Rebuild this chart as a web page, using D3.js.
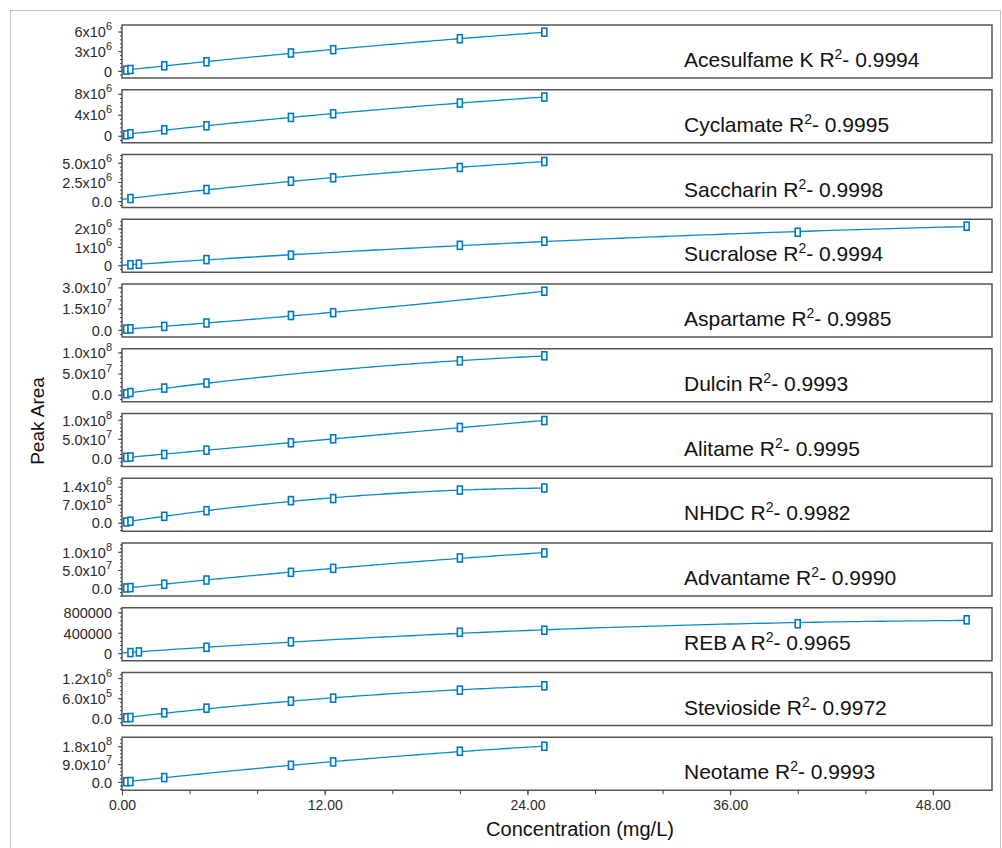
<!DOCTYPE html>
<html>
<head>
<meta charset="utf-8">
<script src="https://cdn.jsdelivr.net/npm/d3@7"></script>
<style>
  body { margin: 0; background: #fff; }
  svg text { font-family: "Liberation Sans", Arial, sans-serif; }
</style>
</head>
<body>
<div id="chart"></div>
<script>
// compound names and R2 values shown in each panel
const compounds = ["Acesulfame K", "Cyclamate", "Saccharin", "Sucralose", "Aspartame", "Dulcin",
    "Alitame", "NHDC", "Advantame", "REB A", "Stevioside", "Neotame"];
const r2Values = ["0.9994", "0.9995", "0.9998", "0.9994", "0.9985", "0.9993",
    "0.9995", "0.9982", "0.9990", "0.9965", "0.9972", "0.9993"];

// concentration levels (mg/L)
const concStd = [0.25, 0.5, 2.5, 5, 10, 12.5, 20, 25];
const concSaccharin = [0.5, 5, 10, 12.5, 20, 25];
const concWide = [0.5, 1, 5, 10, 20, 25, 40, 50];
const concAspartame = [0.25, 0.5, 2.5, 5, 10, 12.5, 25];
const concDulcin = [0.25, 0.5, 2.5, 5, 20, 25];
const concNeotame = [0.25, 0.5, 2.5, 10, 12.5, 20, 25];

// peak areas
const areaAcesulfame = [0.1e6, 0.2e6, 0.77e6, 1.38e6, 2.72e6, 3.23e6, 4.9e6, 5.9e6];
const areaCyclamate = [0.19e6, 0.38e6, 1.14e6, 1.9e6, 3.49e6, 4.19e6, 6.23e6, 7.37e6];
const areaSaccharin = [0.35e6, 1.52e6, 2.6e6, 3.05e6, 4.39e6, 5.17e6];
const areaSucralose = [0.03e6, 0.06e6, 0.31e6, 0.55e6, 1.09e6, 1.31e6, 1.8e6, 2.13e6];
const areaAspartame = [0.05e7, 0.07e7, 0.24e7, 0.48e7, 1.01e7, 1.21e7, 2.73e7];
const areaDulcin = [0.24e7, 0.54e7, 1.58e7, 2.76e7, 8.0e7, 9.2e7];
const areaAlitame = [0.1e7, 0.2e7, 0.87e7, 2.0e7, 3.95e7, 5.0e7, 7.97e7, 9.8e7];
const areaNHDC = [0.03e6, 0.06e6, 0.25e6, 0.47e6, 0.86e6, 0.94e6, 1.27e6, 1.35e6];
const areaAdvantame = [0.1e7, 0.2e7, 1.1e7, 2.27e7, 4.37e7, 5.46e7, 8.3e7, 9.7e7];
const areaREBA = [12000, 25000, 115000, 223000, 410000, 450000, 577000, 654000];
const areaStevioside = [0.01e6, 0.02e6, 0.16e6, 0.3e6, 0.51e6, 0.6e6, 0.84e6, 0.97e6];
const areaNeotame = [0.1e7, 0.2e7, 2.2e7, 8.4e7, 1.01e8, 1.55e8, 1.8e8];

// y axis range and ticks for each panel
const yDomains = [[-1.1e6, 7.0e6], [-1.33e6, 8.76e6], [-0.82e6, 6.08e6], [-0.38e6, 2.51e6],
    [-0.51e7, 3.24e7], [-1.65e7, 1.087e8], [-2.3e7, 1.166e8], [-3.3e5, 1.73e6],
    [-2.1e7, 1.24e8], [-148000, 890000], [-2.2e5, 1.37e6], [-4.2e7, 2.255e8]];
const yTicks = [[0, 3e6, 6e6], [0, 4e6, 8e6], [0, 2.5e6, 5e6], [0, 1e6, 2e6],
    [0, 1.5e7, 3e7], [0, 5e7, 1e8], [0, 5e7, 1e8], [0, 7e5, 1.4e6],
    [0, 5e7, 1e8], [0, 400000, 800000], [0, 6e5, 1.2e6], [0, 9e7, 1.8e8]];
// tick labels as [mantissa, exponent]
const yTickLabels = [
    [["0", ""], ["3x10", "6"], ["6x10", "6"]],
    [["0", ""], ["4x10", "6"], ["8x10", "6"]],
    [["0.0", ""], ["2.5x10", "6"], ["5.0x10", "6"]],
    [["0", ""], ["1x10", "6"], ["2x10", "6"]],
    [["0.0", ""], ["1.5x10", "7"], ["3.0x10", "7"]],
    [["0.0", ""], ["5.0x10", "7"], ["1.0x10", "8"]],
    [["0.0", ""], ["5.0x10", "7"], ["1.0x10", "8"]],
    [["0.0", ""], ["7.0x10", "5"], ["1.4x10", "6"]],
    [["0.0", ""], ["5.0x10", "7"], ["1.0x10", "8"]],
    [["0", ""], ["400000", ""], ["800000", ""]],
    [["0.0", ""], ["6.0x10", "5"], ["1.2x10", "6"]],
    [["0.0", ""], ["9.0x10", "7"], ["1.8x10", "8"]]
];
const xTicks = [0, 12, 24, 36, 48];

const concs = [concStd, concStd, concSaccharin, concWide, concAspartame, concDulcin,
    concStd, concStd, concStd, concWide, concStd, concNeotame];
const areas = [areaAcesulfame, areaCyclamate, areaSaccharin, areaSucralose, areaAspartame, areaDulcin,
    areaAlitame, areaNHDC, areaAdvantame, areaREBA, areaStevioside, areaNeotame];

const lineColor = "#0a88cc";
const markColor = "#0079c2";
const textColor = "#2a2a2a";

// least squares quadratic through the calibration points
function quadFit(xs, ys) {
    const s = [0, 0, 0, 0, 0], t = [0, 0, 0];
    xs.forEach((x, i) => {
        for (let k = 0; k < 5; k++) s[k] += Math.pow(x, k);
        for (let k = 0; k < 3; k++) t[k] += ys[i] * Math.pow(x, k);
    });
    const m = [[s[0], s[1], s[2], t[0]], [s[1], s[2], s[3], t[1]], [s[2], s[3], s[4], t[2]]];
    for (let i = 0; i < 3; i++) {
        for (let j = i + 1; j < 3; j++) {
            const f = m[j][i] / m[i][i];
            for (let k = i; k < 4; k++) m[j][k] -= f * m[i][k];
        }
    }
    const c = [0, 0, 0];
    for (let i = 2; i >= 0; i--) {
        let v = m[i][3];
        for (let k = i + 1; k < 3; k++) v -= m[i][k] * c[k];
        c[i] = v / m[i][i];
    }
    return x => c[0] + c[1] * x + c[2] * x * x;
}

const W = 1002, H = 848;
const svg = d3.select("#chart").append("svg")
    .attr("width", W).attr("height", H);

// light outer frame
svg.append("rect")
    .attr("x", 10.5).attr("y", 10.5)
    .attr("width", 990).attr("height", 900)
    .attr("fill", "none").attr("stroke", "#c4c4c4");

const left = 122, right = 992;
const panelTop = 25, panelStep = 64.75, panelH = 53;

const x = d3.scaleLinear().domain([0, 51.5]).range([left, right]);

compounds.forEach((name, i) => {
    const top = panelTop + i * panelStep;
    const y = d3.scaleLinear().domain(yDomains[i]).range([top + panelH, top]);
    const g = svg.append("g");

    const clipId = "clip" + i;
    svg.append("clipPath").attr("id", clipId)
        .append("rect").attr("x", left).attr("y", top)
        .attr("width", right - left).attr("height", panelH);

    // minor y ticks
    const step = yTicks[i][1] - yTicks[i][0];
    const minor = d3.range(Math.ceil(yDomains[i][0] / (step / 5)), Math.floor(yDomains[i][1] / (step / 5)) + 1)
        .map(k => k * step / 5);
    g.append("g")
        .attr("transform", `translate(${left},0)`)
        .call(d3.axisLeft(y).tickValues(minor).tickSize(2).tickFormat(""))
        .call(a => a.select(".domain").remove())
        .selectAll("line").attr("stroke", "#444");

    // major y ticks with superscript labels
    const ay = g.append("g")
        .attr("transform", `translate(${left},0)`)
        .call(d3.axisLeft(y).tickValues(yTicks[i]).tickSize(4).tickFormat(""));
    ay.select(".domain").remove();
    ay.selectAll("line").attr("stroke", "#444");
    ay.selectAll(".tick").each(function (d, j) {
        const lab = yTickLabels[i][j];
        const t = d3.select(this).append("text")
            .attr("x", -10).attr("dy", "0.36em")
            .attr("text-anchor", "end")
            .attr("fill", textColor)
            .style("font-size", "14.5px");
        t.append("tspan").text(lab[0]);
        if (lab[1]) {
            t.append("tspan").attr("dy", "-7px").style("font-size", "11px").text(lab[1]);
        }
    });

    // panel frame
    g.append("rect")
        .attr("x", left).attr("y", top)
        .attr("width", right - left).attr("height", panelH)
        .attr("fill", "none").attr("stroke", "#555").attr("stroke-width", 1.5);

    // fitted calibration curve
    const xs = concs[i], ys = areas[i];
    const fit = quadFit(xs, ys);
    const xmax = d3.max(xs);
    const curve = d3.range(0, 101).map(k => xmax * k / 100);
    g.append("path")
        .datum(curve)
        .attr("clip-path", `url(#${clipId})`)
        .attr("fill", "none")
        .attr("stroke", lineColor)
        .attr("stroke-width", 1.3)
        .attr("d", d3.line().x(d => x(d)).y(d => y(fit(d))));

    // data markers
    g.selectAll(".pt")
        .data(xs.map((c, k) => ({ c: c, a: ys[k] })))
        .enter().append("rect")
        .attr("class", "pt")
        .attr("x", d => x(d.c) - 2.5)
        .attr("y", d => y(d.a) - 4)
        .attr("width", 5).attr("height", 8)
        .attr("fill", "#fff")
        .attr("stroke", markColor)
        .attr("stroke-width", 1.6);

    // compound label
    const lt = g.append("text")
        .attr("x", 684).attr("y", top + 42)
        .attr("fill", "#111")
        .style("font-size", "21px");
    lt.append("tspan").text(name + " R");
    lt.append("tspan").attr("dy", "-8px").style("font-size", "14px").text("2");
    lt.append("tspan").attr("dy", "8px").text("- " + r2Values[i]);
});

// x axis at bottom of last panel
const axisY = panelTop + 11 * panelStep + panelH;
svg.append("g")
    .attr("transform", `translate(0,${axisY})`)
    .call(d3.axisBottom(x).tickValues(d3.range(0, 52, 4)).tickSize(4).tickFormat(""))
    .call(a => a.select(".domain").remove())
    .selectAll("line").attr("stroke", "#444");
const ax = svg.append("g")
    .attr("transform", `translate(0,${axisY})`)
    .call(d3.axisBottom(x).tickValues(xTicks).tickSize(5).tickPadding(5).tickFormat(d3.format(".2f")));
ax.select(".domain").remove();
ax.selectAll("line").attr("stroke", "#444");
ax.selectAll("text")
    .attr("fill", textColor)
    .style("font-size", "14px");

// axis titles
svg.append("text")
    .attr("x", 580).attr("y", 836)
    .attr("text-anchor", "middle")
    .attr("fill", "#111")
    .style("font-size", "20px")
    .text("Concentration (mg/L)");

svg.append("text")
    .attr("transform", "translate(44,421) rotate(-90)")
    .attr("text-anchor", "middle")
    .attr("fill", "#111")
    .style("font-size", "19px")
    .text("Peak Area");
</script>
</body>
</html>
